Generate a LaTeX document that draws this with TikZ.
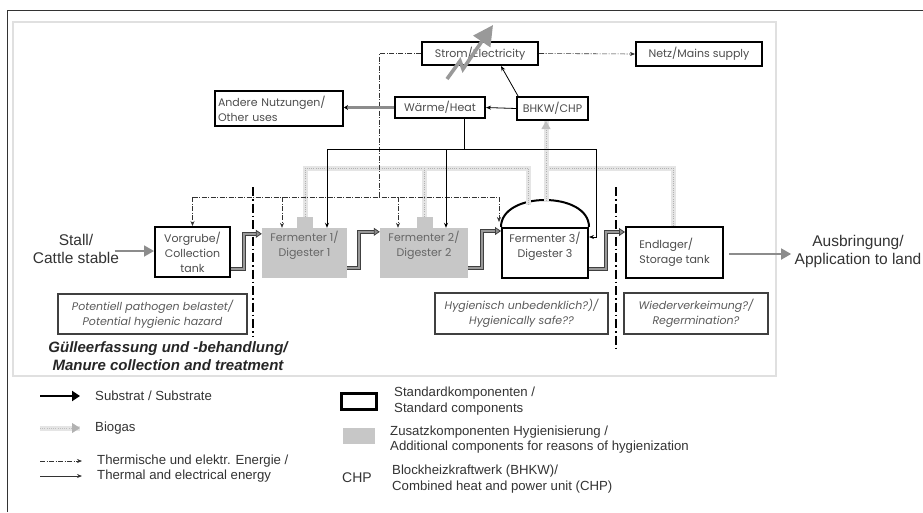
\documentclass[tikz,border=0pt]{standalone}
\usepackage{fontspec}
\setmainfont{Liberation Sans}
\newfontfamily\gothic{Poppins}
\usepackage{tikz}
\usetikzlibrary{positioning}
\usetikzlibrary{calc}
\usetikzlibrary{arrows.meta}
\def\boxfont{\gothic\fontsize{11}{15}\selectfont}
\def\legfont{\fontsize{13.2}{15.5}\selectfont}

\begin{document}
\begin{tikzpicture}[x=1pt, y=-1pt,
  stdbox/.style={draw=black, line width=2pt, inner sep=1pt, font=\boxfont, text=black!70, align=center},
  hygbox/.style={fill=black!22, inner sep=1pt, font=\boxfont, text=black!60, align=center},
  hump/.style={fill=black!22, inner sep=0pt, minimum width=16, minimum height=12},
  note/.style={draw=black!75, line width=1.1pt, inner sep=1pt, font=\boxfont\itshape, text=black!65, align=center},
  legtext/.style={inner sep=0pt, anchor=west, font=\legfont, text=black!80, align=left},
  substrat/.style={draw=black!75, line width=0.8pt, double=black!40, double distance=2.2pt, line join=miter, -{Triangle[length=6pt,width=8pt,fill=black!45]}},
  biogas/.style={draw=black!30, line width=1pt, dash pattern=on 1pt off 1.2pt, preaction={draw=black!10, line width=5pt, solid, -}},
  energy/.style={draw=black!80, line width=0.6pt, dash pattern=on 5pt off 1.5pt on 1pt off 1.5pt, -{Stealth[length=5pt,width=4pt]}},
  power/.style={draw=black, line width=0.8pt, -{Stealth[length=5pt,width=4pt]}},
  grayarrow/.style={draw=black!45, line width=1.8pt, -{Triangle[length=10pt,width=11pt]}},
  sepline/.style={black, line width=1.3pt, dash pattern=on 9pt off 3pt on 1.5pt off 3pt}
]
\useasboundingbox (0,0) rectangle (923,512);

% frames
\draw[black!80, line width=1pt] (7,512) -- (7,10) -- (923,10);
\draw[black!12, line width=1.5pt] (13,22) rectangle (776,376);

% top row
\node[stdbox, minimum width=116, minimum height=23] (strom) at (480,53.5) {Strom/Electricity};
\node[stdbox, minimum width=126, minimum height=24] (netz) at (699,54) {Netz/Mains supply};
\node[stdbox, minimum width=128, minimum height=35, align=left, text width=122] (andere) at (279,108.5) {Andere Nutzungen/\\Other uses};
\node[stdbox, minimum width=90, minimum height=21] (waerme) at (440,107.5) {Wärme/Heat};
\node[stdbox, minimum width=71, minimum height=23] (bhkw) at (552.5,108.5) {BHKW/CHP};

% main row
\node[stdbox, minimum width=75, minimum height=50] (vorgrube) at (192.5,252) {Vorgrube/\\Collection\\tank};
\node[hygbox, minimum width=85, minimum height=50, text depth=18pt] (ferm1) at (304.5,253) {Fermenter 1/\\Digester 1};
\node[hygbox, minimum width=88, minimum height=50, text depth=18pt] (ferm2) at (424,253) {Fermenter 2/\\Digester 2};
\node[stdbox, minimum width=86, minimum height=50, text depth=17pt] (ferm3) at (545,253) {Fermenter 3/\\Digester 3};
\node[stdbox, minimum width=97, minimum height=51, align=left] (endlager) at (674.5,252.5) {Endlager/\\Storage tank};
\node[hump] (hump1) at (305,223) {};
\node[hump] (hump2) at (424.5,223) {};
\draw[line width=2pt] (ferm3.north west) .. controls +(0,-36) and +(0,-36) .. (ferm3.north east);

% in and out
\node[font=\fontsize{15.5}{18}\selectfont, text=black!80, align=center] (stall) at (76,249) {Stall/\\Cattle stable};
\node[font=\fontsize{15.5}{18}\selectfont, text=black!80, align=center] (ausbr) at (858,251) {Ausbringung/\\Application to land};
\draw[grayarrow] ([xshift=-8,yshift=-2]stall.east) -- (vorgrube.west |- 0,251);
\draw[grayarrow] ([xshift=5,yshift=-1.5]endlager.east) -- (ausbr.west |- 0,254);

% notes
\node[note, minimum width=189, minimum height=40] (risk) at (152.5,314) {Potentiell pathogen belastet/\\Potential hygienic hazard};
\node[note, minimum width=173, minimum height=41] (safe) at (521.5,313.5) {Hygienisch unbedenklich?)/\\Hygienically safe??};
\node[note, minimum width=144, minimum height=41] (regerm) at (696,313.5) {Wiederverkeimung?/\\Regermination?};
\node[font=\bfseries\itshape\fontsize{15}{18}\selectfont, text=black!85, align=center] (manure) at (168,356) {Gülleerfassung und -behandlung/\\Manure collection and treatment};

% separators
\draw[sepline] (253,187) -- (253,337);
\draw[sepline] (616,187) -- (616,348);

% biogas
\coordinate (gasL) at (528,168);
\coordinate (gasR) at (546,168);
\coordinate (domegas) at (528,205);
\coordinate (dometop) at (546,201);
\draw[biogas] (hump1.north) |- (gasL) -- (domegas);
\draw[biogas] (hump2.north) -- (hump2.north |- gasL);
\draw[biogas] ([xshift=-1.5]endlager.north) |- (gasR);
\draw[biogas, -{Triangle[length=8pt,width=9pt,fill=black!25,color=black!25]}] (dometop) -- ([xshift=-6.5]bhkw.south);

% substrate
\draw[substrat] ([yshift=9]vorgrube.south east) -- ++(13,0) |- ([yshift=-6]ferm1.north west);
\draw[substrat] ([yshift=10]ferm1.south east) -- ++(12,0) |- ([yshift=-4]ferm2.north west);
\draw[substrat] ([yshift=10]ferm2.south east) -- ++(14,0) |- ([yshift=-4]ferm3.north west);
\draw[substrat] ([yshift=10]ferm3.south east) -- ++(17,0) |- ([yshift=-6]endlager.north west);

% thermal and electrical energy
\coordinate (ebus) at (379,197);
\coordinate (domeleft) at ([xshift=-2,yshift=5]ferm3.north west);
\draw[energy,-] (strom.west) -| (ebus);
\draw[energy,-] (ebus -| vorgrube.north) -- (ebus -| domeleft);
\foreach \tgt/\dx in {vorgrube/0, ferm1/-22.5, ferm2/-26}
  \draw[energy] ([xshift=\dx]\tgt.north |- ebus) -- ([xshift=\dx]\tgt.north);
\draw[energy] (ebus -| domeleft) -- (domeleft);
\draw[energy] (strom.east) -- (netz.west);

\coordinate (hbus) at (464,149);
\draw[power,-] ([xshift=24]waerme.south) -- (hbus);
\draw[power] (hbus) -| ([xshift=22.5]ferm1.north);
\draw[power] (hbus) -| ([xshift=22]ferm2.north);
\draw[power] (hbus) -| ([xshift=7,yshift=-10]ferm3.north east) -- ([yshift=-10]ferm3.north east);
\draw[power] (bhkw.west) -- (waerme.east);
\draw[power] ([xshift=-34.5]bhkw.north) -- ([xshift=21]strom.south);
\draw[draw=black!45, line width=2.5pt, -{Stealth[length=4pt,width=5pt,black]}] (waerme.west) -- (andere.east |- waerme.west);

% electricity flash
\draw[draw=black!40, line width=3.6pt, line join=miter, -{Triangle[length=20pt,width=20pt]}] (447,79) -- (460,61) -- (463,69) -- (493,25);

% legend
\node[legtext] (lgsub) at (95,396) {Substrat / Substrate};
\draw[black, line width=2pt, -{Triangle[length=8pt,width=10pt]}] ([xshift=-55]lgsub.west) -- ([xshift=-15]lgsub.west);
\node[legtext] (lgbio) at (95,428) {Biogas};
\draw[biogas, draw=black!25, -{Triangle[length=8pt,width=10pt,fill=black!30,color=black!30]}] ([xshift=-55]lgbio.west) -- ([xshift=-15]lgbio.west);
\node[legtext] (lgen) at (97,468.5) {Thermische und elektr. Energie /\\Thermal and electrical energy};
\draw[energy] ([xshift=-57,yshift=7.5]lgen.west) -- ([xshift=-15,yshift=7.5]lgen.west);
\draw[power, draw=black!80] ([xshift=-57,yshift=-7.5]lgen.west) -- ([xshift=-15,yshift=-7.5]lgen.west);

\node[draw=black, line width=3pt, minimum width=35, minimum height=16, inner sep=0pt] (lgstd) at (358.5,401) {};
\node[legtext] (lgstdtext) at (394,401) {Standardkomponenten /\\Standard components};
\node[fill=black!22, minimum width=32, minimum height=16, inner sep=0pt] (lghyg) at (359,436) {};
\node[legtext] (lghygtext) at (390,439.5) {Zusatzkomponenten Hygienisierung /\\Additional components for reasons of hygienization};
\node[font=\fontsize{14}{16}\selectfont, text=black!80] (lgchp) at (357,478) {CHP};
\node[legtext] (lgchptext) at (392,479) {Blockheizkraftwerk (BHKW)/\\Combined heat and power unit (CHP)};
\end{tikzpicture}
\end{document}
